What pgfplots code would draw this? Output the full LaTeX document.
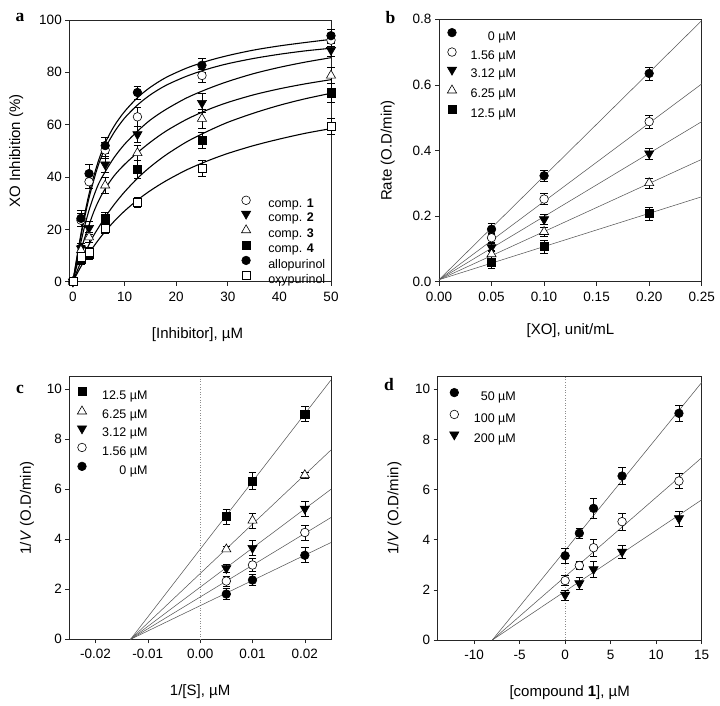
\documentclass[border=0pt]{standalone}
\usepackage{pgfplots}
\pgfplotsset{compat=1.18}
\usepackage{fontspec}
\setmainfont{Liberation Sans}
\newfontfamily\lserif{Liberation Serif}
\newcommand{\tfont}{\fontsize{13.5}{15}\selectfont}
\newcommand{\lfont}{\fontsize{15}{17}\selectfont}
\newcommand{\gfont}{\fontsize{12.5}{14}\selectfont}
\newcommand{\pfont}{\lserif\bfseries\fontsize{17.5}{18}\selectfont}

\pgfplotsset{
 panel/.style={
   scale only axis, clip=false, anchor=south west,
   axis line style={black!85, line width=0.6pt},
   tick style={black!85, line width=0.6pt},
   tick align=outside, major tick length=4pt,
   xtick pos=left, ytick pos=left,
   tick label style={font=\tfont},
   xticklabel style={yshift=-2.5pt},
   /pgf/number format/assume math mode=true,
   label style={font=\lfont},
   xlabel style={anchor=center},
   ylabel style={anchor=center},
   legend style={draw=none, fill=none, font=\gfont, inner sep=0pt, outer sep=0pt, anchor=north west,
      nodes={inner sep=0pt, text height=9pt, text depth=2.5pt}},
   legend image code/.code={\draw[mark repeat=2, mark phase=2, yshift=4.4pt, ##1] plot coordinates {(-5pt,0pt)(0pt,0pt)(5pt,0pt)};},
 },
 pts/.style={only marks,
   /pgfplots/error bars/y dir=both, /pgfplots/error bars/y explicit,
   /pgfplots/error bars/error bar style={line width=0.6pt, black},
   /pgfplots/error bars/error mark options={rotate=90, line width=0.6pt, black, mark size=3.8pt}},
 fcirc/.style={pts, mark=*, mark size=4.3pt, mark options={solid, draw=black, fill=black, line width=0.6pt}},
 ocirc/.style={pts, mark=*, mark size=4.3pt, mark options={solid, draw=black, fill=white, line width=0.6pt}},
 ftri/.style={pts, mark=triangle*, mark size=5.3pt, mark options={solid, rotate=180, draw=black, fill=black, line width=0.6pt}},
 otri/.style={pts, mark=triangle*, mark size=5.3pt, mark options={solid, draw=black, fill=white, line width=0.6pt}},
 fsq/.style={pts, mark=square*, mark size=4.1pt, mark options={solid, draw=black, fill=black, line width=0.6pt}},
 osq/.style={pts, mark=square*, mark size=4.1pt, mark options={solid, draw=black, fill=white, line width=0.6pt}},
 fit/.style={black, line width=1.1pt, smooth, no marks, forget plot},
 lin/.style={black!65, line width=0.55pt, no marks, forget plot},
 zline/.style={black!45, dotted, line width=0.6pt, no marks, forget plot},
}

\begin{document}
\begin{tikzpicture}
\useasboundingbox (0pt,0pt) rectangle (720pt,705pt);

% ---------------- panel a ----------------
\begin{axis}[panel, at={(69.3pt,423.3pt)}, width=261.7pt, height=261.7pt,
  xmin=-0.7, xmax=50, ymin=0, ymax=100,
  xtick={0,10,20,30,40,50}, ytick={0,20,40,60,80,100},
  xlabel={[Inhibitor], µM}, ylabel={XO Inhibition (\%)},
  xlabel style={at={(axis description cs:0.49,-0.201)}},
  ylabel style={at={(axis description cs:-0.203,0.5)}},
  legend style={at={(axis description cs:0.658,0.3275)}, row sep=0.8pt, column sep=17.6pt},
  legend cell align=left]
\addplot[fit] coordinates {(0,0)(1,12)(2,23)(3,32.5)(4,40)(5,46.5)(6.25,53)(8,59.5)(10,65)(12.5,70.3)(15,74.3)(18,78)(22,81.6)(26,84.3)(30,86.4)(35,88.5)(40,90.1)(45,91.4)(50,92.6)};
\addplot[fit] coordinates {(0,0)(1,11.5)(2,22)(3,31)(4,38.5)(5,45)(6.25,51)(8,57.1)(10,62.5)(12.5,67.5)(15,71.4)(18,75)(22,78.5)(26,81.2)(30,83.3)(35,85.3)(40,86.9)(45,88.2)(50,89.2)};
\addplot[fit] coordinates {(0,0)(1,10)(2,19)(3,26.5)(4,32.5)(5,37.5)(6.25,42)(8,47.5)(10,52.5)(12.5,57.5)(15,61.8)(18,65.8)(22,70.2)(26,73.6)(30,76.5)(35,79.5)(40,81.9)(45,83.9)(50,85.6)};
\addplot[fit] coordinates {(0,0)(1,8)(2,15)(3,21)(4,26.5)(5,31)(6.25,35.5)(8,40.5)(10,44.8)(12.5,49.3)(15,53.3)(18,57.5)(22,62)(26,65.6)(30,68.5)(35,71.4)(40,73.7)(45,75.6)(50,77.2)};
\addplot[fit] coordinates {(0,0)(1,5)(2,9.5)(3,13.7)(4,17.6)(5,20.8)(6.25,24.7)(8,29.5)(10,34.3)(12.5,39.5)(15,43.9)(18,48.4)(22,53.4)(26,57.4)(30,60.9)(35,64.4)(40,67.4)(45,69.9)(50,72)};
\addplot[fit] coordinates {(0,0)(1,3.8)(2,7.3)(3,10.5)(4,13.4)(5,16.1)(6.25,19.2)(8,23.1)(10,27)(12.5,31.2)(15,34.8)(18,38.5)(22,42.7)(26,46.1)(30,49)(35,52)(40,54.5)(45,56.7)(50,58.5)};
\addplot[ocirc] coordinates {(0,0) +- (0,0) (1.56,23.5) +- (0,2.5) (3.12,38.2) +- (0,2.5) (6.25,50.3) +- (0,3) (12.5,63) +- (0,3.5) (25,78.8) +- (0,2.5) (50,92.3) +- (0,2.5)};
\addlegendentry{comp. \textbf{1}}
\addplot[ftri] coordinates {(0,0) +- (0,0) (1.56,12.7) +- (0,2) (3.12,20.5) +- (0,2.5) (6.25,44.8) +- (0,3) (12.5,56.3) +- (0,3) (25,68.3) +- (0,3.5) (50,88.5) +- (0,2.5)};
\addlegendentry{comp. \textbf{2}}
\addplot[otri] coordinates {(0,0) +- (0,0) (1.56,12) +- (0,2) (3.12,17) +- (0,2) (6.25,36.8) +- (0,3) (12.5,49.2) +- (0,3) (25,62.3) +- (0,3.5) (50,78.8) +- (0,3)};
\addlegendentry{comp. \textbf{3}}
\addplot[fsq] coordinates {(0,0) +- (0,0) (1.56,8.5) +- (0,2) (3.12,10.5) +- (0,2) (6.25,24) +- (0,2.5) (12.5,43) +- (0,3.5) (25,54.1) +- (0,3) (50,72.2) +- (0,3.5)};
\addlegendentry{comp. \textbf{4}}
\addplot[fcirc] coordinates {(0,0) +- (0,0) (1.56,24.2) +- (0,3) (3.12,41.3) +- (0,3.5) (6.25,52) +- (0,3) (12.5,72.3) +- (0,2.5) (25,82.7) +- (0,2.5) (50,94) +- (0,2.5)};
\addlegendentry{allopurinol}
\addplot[osq] coordinates {(0,0) +- (0,0) (1.56,9.5) +- (0,2) (3.12,11.3) +- (0,2) (6.25,20.4) +- (0,2) (12.5,30.3) +- (0,2) (25,43.3) +- (0,3) (50,59.5) +- (0,3)};
\addlegendentry{oxypurinol}
\end{axis}

% ---------------- panel b ----------------
\begin{axis}[panel, at={(439pt,423.3pt)}, width=262.7pt, height=262.4pt,
  xmin=0, xmax=0.25, ymin=0, ymax=0.8,
  xtick={0,0.05,0.1,0.15,0.2,0.25}, ytick={0,0.2,0.4,0.6,0.8},
  scaled x ticks=false, scaled y ticks=false,
  xticklabel style={/pgf/number format/.cd, fixed, fixed zerofill, precision=2},
  yticklabel style={/pgf/number format/.cd, fixed, fixed zerofill, precision=1},
  xlabel={[XO], unit/mL}, ylabel={Rate (O.D/min)},
  xlabel style={at={(axis description cs:0.5,-0.186)}},
  ylabel style={at={(axis description cs:-0.195,0.5)}},
  legend style={at={(axis description cs:0.032,0.9657)}, row sep=5pt, column sep=14pt},
  legend cell align=right]
\addplot[lin] coordinates {(0,0.006)(0.25,0.796)};
\addplot[lin] coordinates {(0,0.006)(0.25,0.603)};
\addplot[lin] coordinates {(0,0.006)(0.25,0.488)};
\addplot[lin] coordinates {(0,0.006)(0.25,0.373)};
\addplot[lin] coordinates {(0,0.006)(0.25,0.259)};
\addplot[fcirc] coordinates {(0.05,0.160) +- (0,0.017) (0.1,0.323) +- (0,0.018) (0.2,0.635) +- (0,0.02)};
\addlegendentry{0 µM}
\addplot[ocirc] coordinates {(0.05,0.134) +- (0,0.015) (0.1,0.252) +- (0,0.016) (0.2,0.488) +- (0,0.02)};
\addlegendentry{1.56 µM}
\addplot[ftri] coordinates {(0.05,0.105) +- (0,0.013) (0.1,0.190) +- (0,0.015) (0.2,0.391) +- (0,0.017)};
\addlegendentry{3.12 µM}
\addplot[otri] coordinates {(0.05,0.084) +- (0,0.013) (0.1,0.152) +- (0,0.015) (0.2,0.301) +- (0,0.015)};
\addlegendentry{6.25 µM}
\addplot[fsq] coordinates {(0.05,0.060) +- (0,0.02) (0.1,0.107) +- (0,0.02) (0.2,0.208) +- (0,0.02)};
\addlegendentry{12.5 µM}
\end{axis}

% ---------------- panel c ----------------
\begin{axis}[panel, at={(69.3pt,65.7pt)}, width=261.7pt, height=262.6pt,
  xmin=-0.025, xmax=0.025, ymin=0, ymax=10.5,
  xtick={-0.02,-0.01,0,0.01,0.02}, ytick={0,2,4,6,8,10},
  scaled x ticks=false,
  xticklabel style={/pgf/number format/.cd, fixed, fixed zerofill, precision=2},
  xlabel={1/[S], µM}, ylabel={1/\textit{V} (O.D/min)},
  xlabel style={at={(axis description cs:0.5,-0.2)}},
  ylabel style={at={(axis description cs:-0.162,0.5)}},
  legend style={at={(axis description cs:0.031,0.9596)}, row sep=4.45pt, column sep=15.5pt},
  legend cell align=right]
\addplot[zline] coordinates {(0,0)(0,10.5)};
\addplot[lin] coordinates {(-0.0133,0)(0.025,10.37)};
\addplot[lin] coordinates {(-0.0133,0)(0.025,7.57)};
\addplot[lin] coordinates {(-0.0133,0)(0.025,6.0)};
\addplot[lin] coordinates {(-0.0133,0)(0.025,4.87)};
\addplot[lin] coordinates {(-0.0133,0)(0.025,3.87)};
\addplot[fsq] coordinates {(0.005,4.91) +- (0,0.3) (0.01,6.33) +- (0,0.35) (0.02,9.01) +- (0,0.3)};
\addlegendentry{12.5 µM}
\addplot[otri] coordinates {(0.005,3.6) +- (0,0.1) (0.01,4.75) +- (0,0.3) (0.02,6.57) +- (0,0.12)};
\addlegendentry{6.25 µM}
\addplot[ftri] coordinates {(0.005,2.84) +- (0,0.15) (0.01,3.65) +- (0,0.3) (0.02,5.22) +- (0,0.3)};
\addlegendentry{3.12 µM}
\addplot[ocirc] coordinates {(0.005,2.33) +- (0,0.2) (0.01,2.97) +- (0,0.25) (0.02,4.27) +- (0,0.3)};
\addlegendentry{1.56 µM}
\addplot[fcirc] coordinates {(0.005,1.81) +- (0,0.22) (0.01,2.37) +- (0,0.22) (0.02,3.36) +- (0,0.3)};
\addlegendentry{0 µM}
\end{axis}

% ---------------- panel d ----------------
\begin{axis}[panel, at={(437.7pt,65pt)}, width=264pt, height=263.3pt,
  xmin=-14, xmax=15, ymin=0, ymax=10.5,
  xtick={-10,-5,0,5,10,15}, ytick={0,2,4,6,8,10},
  xlabel={[compound \textbf{1}], µM}, ylabel={1/\textit{V} (O.D/min)},
  xlabel style={at={(axis description cs:0.5,-0.198)}},
  ylabel style={at={(axis description cs:-0.164,0.5)}},
  legend style={at={(axis description cs:0.0455,0.956)}, row sep=7.4pt, column sep=15pt},
  legend cell align=right]
\addplot[zline] coordinates {(0,0)(0,10.5)};
\addplot[lin] coordinates {(-8,0)(15,10.27)};
\addplot[lin] coordinates {(-8,0)(15,7.27)};
\addplot[lin] coordinates {(-8,0)(15,5.59)};
\addplot[fcirc] coordinates {(0,3.36) +- (0,0.3) (1.56,4.26) +- (0,0.2) (3.12,5.25) +- (0,0.4) (6.25,6.54) +- (0,0.35) (12.5,9.04) +- (0,0.3)};
\addlegendentry{50 µM}
\addplot[ocirc] coordinates {(0,2.37) +- (0,0.2) (1.56,2.97) +- (0,0.15) (3.12,3.68) +- (0,0.35) (6.25,4.72) +- (0,0.35) (12.5,6.34) +- (0,0.3)};
\addlegendentry{100 µM}
\addplot[ftri] coordinates {(0,1.80) +- (0,0.2) (1.56,2.26) +- (0,0.25) (3.12,2.82) +- (0,0.3) (6.25,3.52) +- (0,0.25) (12.5,4.85) +- (0,0.3)};
\addlegendentry{200 µM}
\end{axis}

\node[font=\pfont, anchor=base] at (20pt,683.3pt) {a};
\node[font=\pfont, anchor=base] at (390.5pt,681pt) {b};
\node[font=\pfont, anchor=base] at (20pt,311.7pt) {c};
\node[font=\pfont, anchor=base] at (389pt,315pt) {d};
\end{tikzpicture}
\end{document}
